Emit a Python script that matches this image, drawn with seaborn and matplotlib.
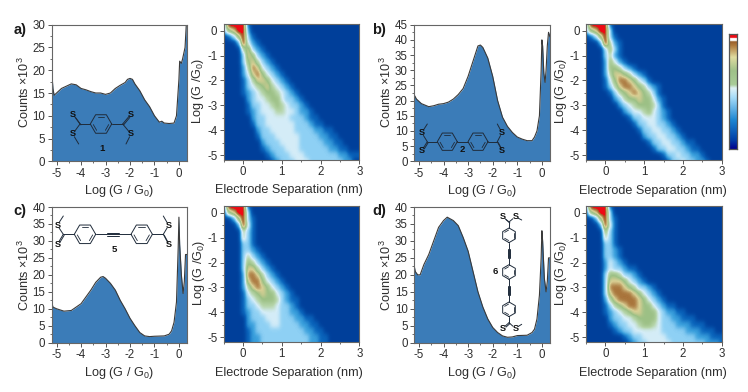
import numpy as np
import matplotlib
matplotlib.use("Agg")
import matplotlib.pyplot as plt
from matplotlib.colors import LinearSegmentedColormap
from matplotlib.ticker import MultipleLocator
import seaborn as sns

# ---------- histogram data (log G, counts in thousands) ----------
a_x = [-5.2,-5.15,-5.1,-5.0,-4.8,-4.6,-4.4,-4.2,-4,-3.8,-3.6,-3.4,-3.2,-3,-2.8,-2.6,-2.4,-2.2,-2.1,-2,-1.9,-1.8,-1.6,-1.4,-1.2,-1,-0.8,-0.7,-0.6,-0.4,-0.2,-0.1,0,0.03,0.1,0.15,0.25,0.3,0.33]
a_y = [20,16,14.5,15,16,16.5,17,16.8,16,15.7,15.3,15,15,14.7,15,16,16.7,17.3,18,18.2,18,17,15.5,13.5,12,10,8.6,8.8,8.4,8.3,8.4,10,18,22,21.5,22.5,25,30,30]
b_x = [-5.2,-5.1,-4.9,-4.6,-4.4,-4.2,-4,-3.8,-3.6,-3.4,-3.2,-3,-2.8,-2.6,-2.5,-2.4,-2.2,-2,-1.8,-1.6,-1.4,-1.2,-1,-0.8,-0.6,-0.4,-0.3,-0.2,-0.1,-0.03,0,0.03,0.08,0.13,0.17,0.22,0.27,0.33]
b_y = [22,20.5,19,18,18.3,18.8,19,19.5,20.5,22,24,28,33,38,38.3,37.5,34,28,20,14.5,11.5,9.5,8,7.3,6.8,6.8,8,10,15,30,40,38,29,26,30,38,42.5,41]
c_x = [-5.2,-5.15,-5,-4.7,-4.4,-4.2,-4,-3.8,-3.6,-3.4,-3.2,-3.1,-3,-2.8,-2.6,-2.4,-2.2,-2,-1.8,-1.6,-1.4,-1.2,-1,-0.6,-0.4,-0.3,-0.2,-0.1,-0.03,0,0.03,0.1,0.17,0.22,0.27,0.33]
c_y = [12,10.5,10,9.3,9.5,10.5,11.5,13.5,15.5,17.8,19.3,19.5,19,17.5,15.5,12.5,10,7.2,5,3,2,1.8,1.9,2,2.5,3.5,6,12,28,37,29,20,14.5,18,26,26]
d_x = [-5.2,-5.15,-5.05,-4.95,-4.8,-4.6,-4.4,-4.2,-4,-3.85,-3.6,-3.4,-3.2,-3,-2.8,-2.6,-2.4,-2.2,-2,-1.8,-1.6,-1.4,-1.2,-1,-0.6,-0.4,-0.3,-0.2,-0.1,-0.03,0,0.03,0.1,0.17,0.22,0.27,0.33]
d_y = [23,21,20,20,23,26,30,34,36,37,36,34.5,31,27,21,15,10.5,7,4.5,3,2,1.6,1.7,2.1,2.2,3,4,7,14,25,33,30,19,15,18,25,25]

# ---------- 2D histograms: rows logG +0.25 .. -5.25, columns -0.5 .. 3 nm ----------
heat_a = ["399991","367992","0136931","00029421","000057321","0000376321","00003675321","000025874321",
 "0000247864321","00001357764321","000013456754321","0000123456654321","00000234456643321",
 "000001334456543321","0000012344455443221","00000023344444333211","000000133444444333211",
 "00000002334444433332211","000000013334444433332211","0000000023334444333332211",
 "00000000123334443333332211","00000000012333444333333322111",
 "000000000012333444333333322"]
heat_b = ["399991","367993","0136931","00029521","00003631","00003521","000026421","00002665321",
 "0000257765321","00001468876431","0000135788765321","0000013567876531","00000023566766421",
 "00000002345666531","000000002344564321","000000000133444321","0000000000133443321",
 "00000000000133443321","000000000000233443321","00000000000001334433211",
 "000000000000001334433211","0000000000000000133433221","00000000000000000133433221"]
heat_c = ["299991","167993","0026931","0002941","0000531","0000531","0000331","00003321","000035321",
 "0000365321","00003775321","000028875321","0000278864321","00002578764321","000014567664321",
 "0000134566653211","0000133455543321","00001233444433221","0000023334443332211",
 "00000223334433332211","000001233333333332211","0000012233333333332211","0000012233333333332211"]
heat_d = ["299991","167993","0026931","0002941","0000631","0000531","0000331","00003321","00003321",
 "000024321","00002433211","000036653321","0000377764321","000038887653321","0000378888764321",
 "00002578888764321","0000135678876643211","000012345677666432211","00000233445666643322111",
 "0000012334456654333222111","000000123344444433333222111",
 "00000000123344444333333222111","00000000012334444433333332221"]

# ---------- tick values ----------
hist_xticks = [-5,-4,-3,-2,-1,0]
heat_xticks = [0,1,2,3]
heat_yticks = [0,-1,-2,-3,-4,-5]
hist_tops = {"a":30,"b":45,"c":40,"d":40}

sns.set_theme(style="ticks")
plt.rcParams.update({"font.family":["Liberation Sans","DejaVu Sans"],"mathtext.default":"regular",
    "axes.unicode_minus":False,"text.color":"#2e2e2e","axes.labelcolor":"#2e2e2e",
    "xtick.color":"#555555","ytick.color":"#555555","xtick.labelcolor":"#2e2e2e","ytick.labelcolor":"#2e2e2e"})

W,H = 748,392
fig = plt.figure(figsize=(W/100,H/100),dpi=100,facecolor="white")
def add_ax(l,t,r,b,**kw):
    return fig.add_axes([l/W,1-b/H,(r-l)/W,(b-t)/H],**kw)

stops = [(0,"#003f9a"),(1/9,"#0a64bb"),(2/9,"#3a9fdc"),(3/9,"#8ed0f4"),(4/9,"#d5edf8"),(5/9,"#b5d4a8"),
         (6/9,"#9cc085"),(7/9,"#d8cf94"),(8/9,"#a8733a"),(8.4/9,"#c04020"),(8.5/9,"#ee0a14"),(1,"#ee0a14")]
cmap = LinearSegmentedColormap.from_list("gmap",stops,N=256)

def style(ax):
    for s in ax.spines.values():
        s.set_color("#666666"); s.set_linewidth(0.8); s.set_visible(True)
    ax.tick_params(which="major",length=3,width=0.7,labelsize=8.3,pad=1.5,direction="out")
    ax.tick_params(which="minor",length=1.6,width=0.6,direction="out")

def hist(box,x,y,top,ystep):
    ax = add_ax(*box)
    ax.fill_between(x,y,0,color="#3b7cb8",lw=0)
    sns.lineplot(x=x,y=y,ax=ax,color="#3a3a3a",linewidth=0.8,errorbar=None)
    ax.set_xlim(-5.2,0.33); ax.set_ylim(0,top)
    ax.set_xticks(hist_xticks); ax.xaxis.set_minor_locator(MultipleLocator(0.5))
    ax.yaxis.set_major_locator(MultipleLocator(ystep)); ax.yaxis.set_minor_locator(MultipleLocator(ystep/2))
    ax.set_xlabel(""); ax.set_ylabel("")
    style(ax)

def heat(box,rows):
    ax = add_ax(*box)
    grid = np.array([[int(c) for c in r.ljust(29,"0")[:29]] for r in rows],dtype=float)
    ax.imshow(grid,cmap=cmap,vmin=0,vmax=9,aspect="auto",interpolation="gaussian",
              extent=[-0.5625,3.0625,-5.375,0.375])
    ax.set_xlim(-0.5,3); ax.set_ylim(-5.2,0.27)
    ax.set_xticks(heat_xticks); ax.set_yticks(heat_yticks)
    ax.xaxis.set_minor_locator(MultipleLocator(0.5)); ax.yaxis.set_minor_locator(MultipleLocator(0.5))
    ax.grid(False)
    style(ax)

hist((51.7,24.7,187,161.3),a_x,a_y,hist_tops["a"],5)
hist((414,24.7,550,161.3),b_x,b_y,hist_tops["b"],5)
hist((51.7,207,187,342.7),c_x,c_y,hist_tops["c"],5)
hist((414,207,550,342.7),d_x,d_y,hist_tops["d"],5)
heat((223.7,24,359.3,160),heat_a)
heat((586,24,721.7,160),heat_b)
heat((223.7,206.3,359.3,342),heat_c)
heat((586,206.3,721.7,342),heat_d)

# colour scale
cb = add_ax(729.3,34,737.3,149)
bar = LinearSegmentedColormap.from_list("bar",[(0,"#00008f"),(0.08,"#0040a8"),(0.25,"#1c86d2"),(0.45,"#a8ddf9"),
    (0.53,"#dff2f7"),(0.56,"#a9cc98"),(0.68,"#9fc189"),(0.8,"#e0dca0"),(0.9,"#b07a3c"),(0.935,"#9a5f2a"),
    (0.945,"#ffffff"),(0.965,"#ffffff"),(0.97,"#ee0a14"),(1,"#ee0a14")],N=256)
cb.imshow(np.arange(256)[::-1].reshape(-1,1),cmap=bar,aspect="auto")
cb.set_xticks([]); cb.set_yticks([])
for s in cb.spines.values():
    s.set_color("#555555"); s.set_linewidth(0.9)

# overlay in pixel coordinates for annotations
ov = fig.add_axes([0,0,1,1],facecolor="none")
ov.set_xlim(0,W); ov.set_ylim(H,0); ov.axis("off")
def T(x,y,s,**kw):
    kw.setdefault("ha","center"); kw.setdefault("va","center")
    ov.text(x,y,s,**kw)

FS = 9.1
for x,y,s in [(20,30,"a)"),(379,30,"b)"),(20,211,"c)"),(379,211,"d)")]:
    T(x,y,s,fontsize=10.5,fontweight="bold",color="#1a1a1a")
for cx,cy,x2,y2 in [(24,92,119,191),(386,92,482,191),(24,275,119,373),(386,275,482,373)]:
    T(cx,cy,"Counts ×10$^3$",rotation=90,fontsize=FS)
    T(x2,y2,"Log (G / G$_0$)",fontsize=FS)
for lx,ly,ex,ey in [(198,91,289,190),(561,91,653,191),(199,273,289,373),(561,273,653,373)]:
    T(lx,ly,"Log (G /G$_0$)",rotation=90,fontsize=FS)
    T(ex,ey,"Electrode Separation (nm)",fontsize=FS)

# molecule sketches
INK = "#1f2b3a"
def seg(x0,y0,x1,y1,lw=0.7):
    ov.plot([x0,x1],[y0,y1],color=INK,lw=lw,solid_capstyle="round")
def ring(cx,cy,r,vertical=False):
    off = np.pi/2 if vertical else 0
    ang = off+np.arange(7)*np.pi/3
    px,py = cx+r*np.cos(ang),cy+r*np.sin(ang)
    ov.plot(px,py,color=INK,lw=0.7)
    for i in (0,2,4):
        ax0,ay0 = cx+.72*r*np.cos(ang[i]+.08),cy+.72*r*np.sin(ang[i]+.08)
        ax1,ay1 = cx+.72*r*np.cos(ang[i+1]-.08),cy+.72*r*np.sin(ang[i+1]-.08)
        seg(ax0,ay0,ax1,ay1,0.6)
def toward(p,q,d=3.2):
    v = np.array(q,float)-np.array(p,float)
    return np.array(p,float)+v/np.hypot(*v)*d
def dithio(c,s1,s2,m):
    e1 = toward(s1,c); e2 = toward(s2,c); e3 = toward(s2,m)
    seg(c[0],c[1],e1[0],e1[1]); seg(c[0]+.9,c[1]+.9,e1[0]+.9,e1[1]+.9)
    seg(c[0],c[1],e2[0],e2[1]); seg(e3[0],e3[1],m[0],m[1])
    for p in (s1,s2):
        ov.text(p[0],p[1],"S",fontsize=6.6,fontweight="bold",ha="center",va="center",color="#111111",zorder=5)
def label(x,y,s):
    T(x,y,s,fontsize=6.8,fontweight="bold",color="#111111")

# 1
ring(101,124,10.7); seg(80,124,90.3,124); seg(111.7,124,122.7,124)
dithio((80,124),(72.7,114),(72.7,134),(78.7,144)); dithio((122.7,124),(131,114),(131,134),(126,144)); label(102,148,"1")
# 2
ring(447.3,141.7,10); ring(478,141.7,10); seg(457.3,141.7,468,141.7); seg(427.3,141.7,437.3,141.7); seg(488,141.7,497.3,141.7)
dithio((427.3,141.7),(421.7,150.7),(421.7,132.7),(427.3,124)); dithio((497.3,141.7),(502,150.3),(502,132.7),(497.3,124)); label(462.7,149,"2")
# 5
ring(85,234.3,10.7); ring(141.7,234.3,10.7); seg(63.3,234.3,74.3,234.3); seg(152.4,234.3,163.3,234.3)
seg(95.7,234.3,131,234.3)
seg(107.3,232.6,119.3,232.6); seg(107.3,236,119.3,236)
dithio((63.3,234.3),(57.3,244.3),(57.3,225.3),(63.3,216)); dithio((163.3,234.3),(168.7,244.3),(168.7,225.3),(163.3,216)); label(114.3,249,"5")
# 6
for cy in (235.3,272,309.3):
    ring(509,cy,7.3,vertical=True)
seg(509,222,509,228); seg(509,242.6,509,264.7); seg(509,279.3,509,302); seg(509,316.6,509,322.7)
for y0,y1 in ((249,258),(286,295)):
    seg(507.6,y0,507.6,y1); seg(510.4,y0,510.4,y1)
dithio((509,222),(502.7,216.7),(515.3,216.7),(521.7,220)); dithio((509,322.7),(502.7,328.3),(515.3,328.3),(521.7,324.3)); label(495,272,"6")

fig.savefig("out.png",dpi=100)
